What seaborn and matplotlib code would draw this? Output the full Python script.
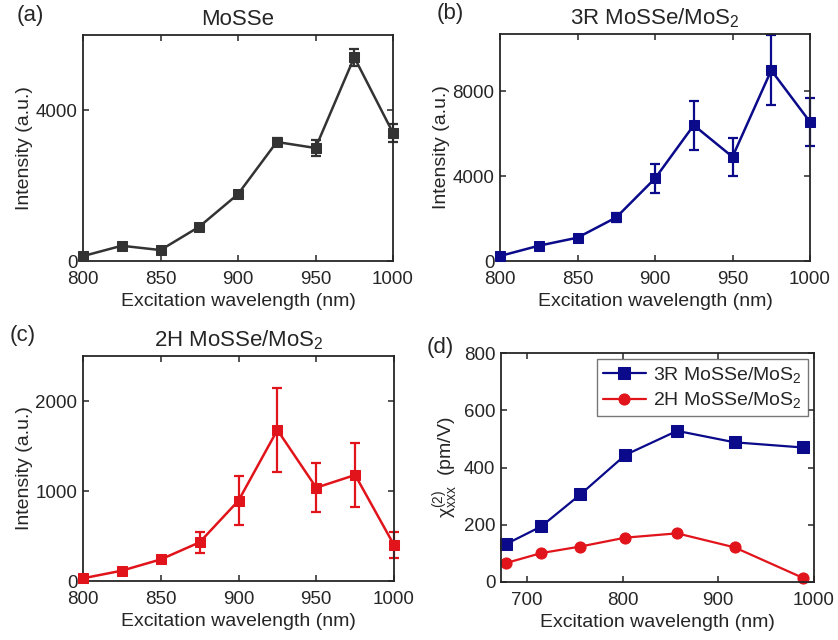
import numpy as np
import pandas as pd
import matplotlib
matplotlib.use("Agg")
import matplotlib.pyplot as plt
import seaborn as sns

# ---------------- data ----------------
wl = [800, 825, 850, 875, 900, 925, 950, 975, 1000]

mosse_val = [130, 405, 290, 910, 1775, 3160, 3000, 5410, 3400]
mosse_err = [60, 60, 60, 60, 70, 100, 220, 220, 250]

r3_val = [235, 720, 1100, 2055, 3890, 6400, 4910, 8990, 6555]
r3_err = [80, 80, 80, 200, 690, 1160, 900, 1650, 1120]

h2_val = [30, 115, 240, 430, 893, 1678, 1037, 1178, 400]
h2_err = [15, 20, 25, 115, 270, 470, 270, 355, 140]

chi_wl = [678, 715, 756, 803, 857, 917, 988]
chi_3r = [132, 194, 306, 444, 528, 488, 470]
chi_2h = [66, 101, 124, 155, 170, 121, 15]

c_gray = "#333333"
c_blue = "#0a0a8a"
c_red = "#e0141a"

sns.set_style("ticks")
plt.rcParams["font.family"] = ["Liberation Sans", "DejaVu Sans"]
plt.rcParams["mathtext.fontset"] = "custom"
plt.rcParams["mathtext.rm"] = "Liberation Sans"
plt.rcParams["mathtext.it"] = "Liberation Sans:italic"
plt.rcParams["axes.edgecolor"] = "#262626"
plt.rcParams["axes.linewidth"] = 1.3

FS_TICK = 13.5
FS_LAB = 14
FS_TITLE = 16

fig = plt.figure(figsize=(8.38, 6.4), dpi=100)

def px_axes(l, t, r, b):
    W, H = 838, 640
    return fig.add_axes([l / W, 1 - b / H, (r - l) / W, (b - t) / H])

axa = px_axes(83, 35, 393, 261)
axb = px_axes(500, 34, 810, 261)
axc = px_axes(83, 356, 394, 581)
axd = px_axes(501, 353, 814, 582)

def style(ax):
    ax.tick_params(direction="in", top=True, right=True, labelsize=FS_TICK,
                   length=4, width=1.1, colors="#262626")
    ax.tick_params(axis="x", pad=7)
    ax.tick_params(axis="y", pad=4)
    for s in ax.spines.values():
        s.set_visible(True)

def letter(ax, s, dx_px, dy_px):
    bb = ax.get_position()
    W, H = 838, 640
    fig.text(bb.x0 + dx_px / W, bb.y1 + dy_px / H, s, fontsize=FS_TITLE,
             ha="left", va="center")

def panel(ax, vals, errs, color, title, ylim, yticks):
    df = pd.DataFrame({"wl": wl, "val": vals})
    ax.errorbar(wl, vals, yerr=errs, fmt="none", ecolor=color, elinewidth=1.6,
                capsize=3.5, capthick=1.6, zorder=2, clip_on=False)
    sns.lineplot(data=df, x="wl", y="val", ax=ax, color=color, marker="s",
                 markersize=7.5, markeredgecolor=color, linewidth=1.8,
                 sort=False, errorbar=None, zorder=3, clip_on=False)
    ax.set_xlim(800, 1000)
    ax.set_ylim(*ylim)
    ax.set_xticks([800, 850, 900, 950, 1000])
    ax.set_yticks(yticks)
    ax.set_xlabel("Excitation wavelength (nm)", fontsize=FS_LAB, labelpad=4)
    ax.set_ylabel("Intensity (a.u.)", fontsize=FS_LAB, labelpad=2)
    ax.set_title(title, fontsize=FS_TITLE, pad=7)
    style(ax)

panel(axa, mosse_val, mosse_err, c_gray, "MoSSe", (0, 6000), [0, 4000])
panel(axb, r3_val, r3_err, c_blue, "3R MoSSe/MoS$_2$", (0, 10700), [0, 4000, 8000])
panel(axc, h2_val, h2_err, c_red, "2H MoSSe/MoS$_2$", (0, 2500), [0, 1000, 2000])

lab3r = "3R MoSSe/MoS$_2$"
lab2h = "2H MoSSe/MoS$_2$"
dfd = pd.DataFrame({
    "wl": chi_wl * 2,
    "chi": chi_3r + chi_2h,
    "sample": [lab3r] * len(chi_wl) + [lab2h] * len(chi_wl),
})
sns.lineplot(data=dfd, x="wl", y="chi", hue="sample", style="sample",
             markers={lab3r: "s", lab2h: "o"}, dashes=False,
             palette={lab3r: c_blue, lab2h: c_red},
             markersize=8, linewidth=1.6, ax=axd, sort=False, errorbar=None,
             clip_on=False)
for line in axd.get_lines():
    line.set_markeredgecolor(line.get_color())
axd.set_xlim(673, 1000)
axd.set_ylim(0, 800)
axd.set_xticks([700, 800, 900, 1000])
axd.set_yticks([0, 200, 400, 600, 800])
axd.set_xlabel("Excitation wavelength (nm)", fontsize=FS_LAB, labelpad=4)
axd.set_ylabel(r"$\mathrm{\chi}^{(2)}_{\mathrm{xxx}}$  (pm/V)", fontsize=FS_LAB, labelpad=2)
style(axd)
leg = axd.legend(loc="upper right", fontsize=FS_LAB, frameon=True, fancybox=False,
                 edgecolor="#555555", borderaxespad=0.3, handlelength=2.2,
                 borderpad=0.3, labelspacing=0.3, handletextpad=0.4)
leg.get_frame().set_linewidth(1.0)
for h in leg.get_lines():
    h.set_markeredgecolor(h.get_color())

letter(axa, "(a)", -66, 20)
letter(axb, "(b)", -63, 21)
letter(axc, "(c)", -73, 21)
letter(axd, "(d)", -74, 6)

fig.savefig("out.png", dpi=100)
